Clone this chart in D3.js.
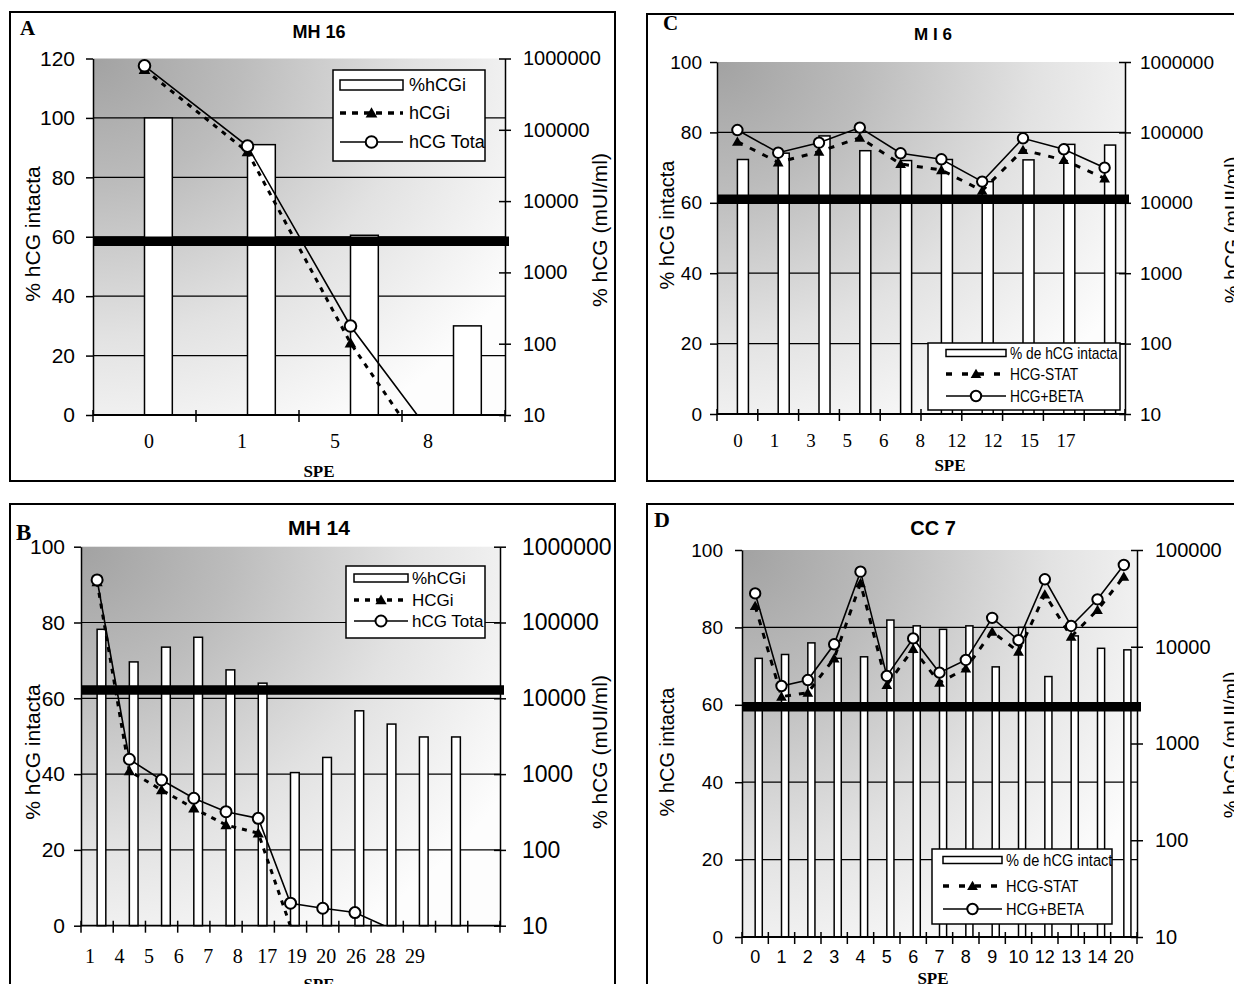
<!DOCTYPE html>
<html lang="en">
<head>
<meta charset="UTF-8">
<title>hCG intacta / hCG total</title>
<script src="https://cdnjs.cloudflare.com/ajax/libs/d3/7.8.5/d3.min.js"></script>
<style>
  body { margin: 0; background: #fff; }
  text { fill: #000; }
</style>
</head>
<body>
<svg id="chart" width="1234" height="984"></svg>
<script>
// Panel A - MH 16
const ticksA = ["0", "1", "5", "8"];
const barsA = [100, 91, 60.5, 30];
const statA = [700000, 49000, 102, 0.8];
const betaA = [790000, 59000, 177, 2.1];
const cutA = 58.5;
const legendA = ["%hCGi", "hCGi", "hCG Tota"];

// Panel B - MH 14 (13 slots, last one empty)
const ticksB = ["1", "4", "5", "6", "7", "8", "17", "19", "20", "26", "28", "29"];
const barsB = [78.2, 69.6, 73.5, 76.1, 67.5, 64.0, 40.4, 44.4, 56.7, 53.2, 49.8, 49.8, null];
const statB = [343000, 1100, 617, 354, 213, 166, 9.8, null, null, null, null, null, null];
const betaB = [364000, 1570, 836, 480, 319, 261, 19.8, 17, 14.9, 9.6, null, null, null];
const cutB = 62.2;
const legendB = ["%hCGi", "HCGi", "hCG Tota"];

// Panel C - M I 6
const ticksC = ["0", "1", "3", "5", "6", "8", "12", "12", "15", "17"];
const barsC = [72.3, 74.1, 79.0, 74.8, 72.0, 72.3, 66.0, 72.2, 76.6, 76.4];
const statC = [73800, 37600, 53200, 84100, 35600, 29200, 14900, 56200, 40600, 22300];
const betaC = [108000, 51500, 71500, 117000, 50500, 41500, 20000, 82400, 57500, 31500];
const cutC = 61;
const legendC = ["% de hCG intacta", "HCG-STAT", "HCG+BETA"];

// Panel D - CC 7
const ticksD = ["0", "1", "2", "3", "4", "5", "6", "7", "8", "9", "10", "12", "13", "14", "20"];
const barsD = [72.0, 73.0, 76.0, 72.0, 72.4, 81.9, 80.4, 79.5, 80.4, 69.8, 80.0, 67.3, 77.8, 74.6, 74.2];
const statD = [26400, 3050, 3350, 7600, 45300, 4030, 9480, 4250, 5980, 14300, 8890, 34800, 12700, 24000, 53000];
const betaD = [35600, 3930, 4530, 10600, 59700, 4990, 12200, 5400, 7300, 19900, 11700, 49800, 16400, 30900, 70000];
const cutD = 59.5;
const legendD = ["% de hCG intacta", "HCG-STAT", "HCG+BETA"];

const SANS = "Arial, 'Liberation Sans', sans-serif";
const SERIF = "'Times New Roman', 'Liberation Serif', serif";

const svg = d3.select("#chart");
const defs = svg.append("defs");

// plot area background: dark in the top-left corner, white further away
const grad = defs.append("radialGradient").attr("id", "bg")
    .attr("cx", 0).attr("cy", 0).attr("fx", 0).attr("fy", 0).attr("r", 1.2);
grad.append("stop").attr("offset", 0).attr("stop-color", "#a2a2a2");
grad.append("stop").attr("offset", 0.3).attr("stop-color", "#bcbcbc");
grad.append("stop").attr("offset", 0.65).attr("stop-color", "#e2e2e2");
grad.append("stop").attr("offset", 1).attr("stop-color", "#fdfdfd");

const panels = [
    { id: "A", title: "MH 16", ticks: ticksA, bars: barsA, stat: statA, beta: betaA, cut: cutA, legend: legendA,
      frame: [10, 12, 605, 469], l: 93, r: 505, t: 58.5, b: 415, yMax: 120, logMax: 1e6,
      letter: [20, 35, 21], head: [319, 38, 18],
      lSize: 21, lPad: 11, rSize: 20, rPad: 12,
      yTitle: [33, 234], y2Title: [600, 230], titleSize: 21,
      labelRange: [149, 428], labelY: 448, labelSize: 20, labelFont: SERIF,
      spe: [319, 477, 17], dash: "5,6", mr: 5.8, tri: 60,
      lg: { box: [333, 70, 152, 91], rows: [85, 113, 142], sw: [340, 403], swH: 10, tx: 409, size: 18, sx: 1, dash: "6,6" } },
    { id: "B", title: "MH 14", ticks: ticksB, bars: barsB, stat: statB, beta: betaB, cut: cutB, legend: legendB,
      frame: [10, 504, 605, 500], l: 81, r: 500, t: 546.7, b: 925.7, yMax: 100, logMax: 1e6,
      letter: [16, 540, 23], head: [319, 535, 21],
      lSize: 21, lPad: 9, rSize: 23, rPad: 16,
      yTitle: [33, 752], y2Title: [600, 752], titleSize: 21,
      labelRange: [90, 415], labelY: 963, labelSize: 20, labelFont: SERIF,
      spe: [319, 990, 17], dash: "5,6", mr: 5.5, tri: 55,
      lg: { box: [346, 566, 139, 72], rows: [578, 600, 621], sw: [354, 408], swH: 8, tx: 412, size: 17, sx: 1, dash: "5,6" } },
    { id: "C", title: "M I 6", ticks: ticksC, bars: barsC, stat: statC, beta: betaC, cut: cutC, legend: legendC,
      frame: [647, 14, 600, 467], l: 717, r: 1125, t: 62, b: 414, yMax: 100, logMax: 1e6,
      letter: [663, 30, 21], head: [933, 40, 17],
      lSize: 19, lPad: 8, rSize: 19, rPad: 9,
      yTitle: [667, 225], y2Title: [1232, 230], titleSize: 20,
      labelRange: [738, 1066], labelY: 447, labelSize: 19, labelFont: SERIF,
      spe: [950, 471, 17], dash: "6,8", mr: 5.2, tri: 50,
      lg: { box: [928, 343, 192, 67], rows: [353, 374, 396], sw: [946, 1006], swH: 7, tx: 1010, size: 16, sx: 0.86, dash: "6,10" } },
    { id: "D", title: "CC 7", ticks: ticksD, bars: barsD, stat: statD, beta: betaD, cut: cutD, legend: legendD,
      frame: [647, 504, 600, 500], l: 742, r: 1137, t: 550, b: 937, yMax: 100, logMax: 1e5,
      letter: [654, 527, 22], head: [933, 535, 20],
      lSize: 19, lPad: 12, rSize: 20, rPad: 12,
      yTitle: [667, 752], y2Title: [1231, 745], titleSize: 20,
      labelRange: null, labelY: 963, labelSize: 18, labelFont: SANS,
      spe: [933, 984, 17], dash: "6,8", mr: 5.2, tri: 50,
      lg: { box: [932, 849, 180, 75], rows: [860, 886, 909], sw: [943, 1002], swH: 7, tx: 1006, size: 17, sx: 0.86, dash: "6,10" } }
];

panels.forEach(drawPanel);

function drawPanel(p) {
    const g = svg.append("g").attr("font-family", SANS);

    const x = d3.scaleBand().domain(d3.range(p.bars.length)).range([p.l, p.r]);
    const y = d3.scaleLinear().domain([0, p.yMax]).range([p.b, p.t]);
    const yl = d3.scaleLog().domain([10, p.logMax]).range([p.b, p.t]);
    const bw = x.bandwidth();
    const cx = i => x(i) + bw / 2;

    // frame and headings
    g.append("rect").attr("x", p.frame[0]).attr("y", p.frame[1])
        .attr("width", p.frame[2]).attr("height", p.frame[3])
        .attr("fill", "none").attr("stroke", "#000").attr("stroke-width", 2);
    g.append("text").attr("x", p.letter[0]).attr("y", p.letter[1])
        .attr("font-family", SERIF).attr("font-weight", "bold").attr("font-size", p.letter[2]).text(p.id);
    g.append("text").attr("x", p.head[0]).attr("y", p.head[1]).attr("text-anchor", "middle")
        .attr("font-weight", "bold").attr("font-size", p.head[2]).text(p.title);

    // plot background and grid
    g.append("rect").attr("x", p.l).attr("y", p.t).attr("width", p.r - p.l).attr("height", p.b - p.t)
        .attr("fill", "url(#bg)");
    const yTicks = d3.range(0, p.yMax + 1, 20);
    g.append("g").selectAll("line").data(yTicks.filter(v => v > 0 && v < p.yMax)).join("line")
        .attr("x1", p.l).attr("x2", p.r).attr("y1", d => y(d)).attr("y2", d => y(d))
        .attr("stroke", "#000").attr("stroke-width", 1.2);

    // bars (second slot of each cluster)
    g.append("g").selectAll("rect").data(p.bars.map((v, i) => ({ v, i })).filter(d => d.v != null)).join("rect")
        .attr("x", d => cx(d.i)).attr("width", bw * 0.27)
        .attr("y", d => y(d.v)).attr("height", d => p.b - y(d.v))
        .attr("fill", "#fff").attr("stroke", "#000").attr("stroke-width", 1.5);

    // lines, clipped to the plot area
    const clipId = "clip" + p.id;
    defs.append("clipPath").attr("id", clipId).append("rect")
        .attr("x", p.l).attr("y", p.t - 8).attr("width", p.r - p.l).attr("height", p.b - p.t + 8);
    const line = d3.line().defined(d => d != null).x((d, i) => cx(i)).y(d => yl(d));
    const inside = arr => arr.map((v, i) => ({ v, i })).filter(d => d.v != null && d.v >= 10);

    g.append("path").attr("d", line(p.stat)).attr("clip-path", `url(#${clipId})`)
        .attr("fill", "none").attr("stroke", "#000").attr("stroke-width", 3).attr("stroke-dasharray", p.dash);
    g.append("g").selectAll("path").data(inside(p.stat)).join("path")
        .attr("transform", d => `translate(${cx(d.i)},${yl(d.v) + 1})`)
        .attr("d", d3.symbol(d3.symbolTriangle, p.tri)).attr("fill", "#000");

    g.append("path").attr("d", line(p.beta)).attr("clip-path", `url(#${clipId})`)
        .attr("fill", "none").attr("stroke", "#000").attr("stroke-width", 1.6);
    g.append("g").selectAll("circle").data(inside(p.beta)).join("circle")
        .attr("cx", d => cx(d.i)).attr("cy", d => yl(d.v)).attr("r", p.mr)
        .attr("fill", "#fff").attr("stroke", "#000").attr("stroke-width", 2);

    // thick cut-off line
    g.append("line").attr("x1", p.l).attr("x2", p.r + 4).attr("y1", y(p.cut)).attr("y2", y(p.cut))
        .attr("stroke", "#000").attr("stroke-width", 9.5);

    // left axis
    const ax = g.append("g").attr("transform", `translate(${p.l},0)`)
        .call(d3.axisLeft(y).tickValues(yTicks).tickSize(7).tickSizeOuter(0).tickPadding(p.lPad));
    ax.attr("font-family", SANS).attr("font-size", p.lSize);
    ax.selectAll("line, path").attr("stroke", "#000").attr("stroke-width", 1.5);

    // right (log) axis
    const decades = d3.range(1, Math.log10(p.logMax) + 1).map(e => Math.pow(10, e));
    const ax2 = g.append("g").attr("transform", `translate(${p.r},0)`)
        .call(d3.axisRight(yl).tickValues(decades).tickFormat(d3.format("d")).tickSize(6).tickSizeOuter(0).tickPadding(p.rPad));
    ax2.attr("font-family", SANS).attr("font-size", p.rSize);
    ax2.selectAll("line").attr("x1", -6);
    ax2.selectAll("line, path").attr("stroke", "#000").attr("stroke-width", 1.5);

    // category axis
    g.append("line").attr("x1", p.l).attr("x2", p.r).attr("y1", p.b).attr("y2", p.b)
        .attr("stroke", "#000").attr("stroke-width", 1.8);
    g.append("g").selectAll("line").data(x.domain().map(i => x(i)).concat([p.r])).join("line")
        .attr("x1", d => d).attr("x2", d => d).attr("y1", p.b - 5).attr("y2", p.b + 7)
        .attr("stroke", "#000").attr("stroke-width", 1.5);
    const lx = p.labelRange
        ? d3.scalePoint().domain(d3.range(p.ticks.length)).range(p.labelRange)
        : cx;
    g.append("g").selectAll("text").data(p.ticks).join("text")
        .attr("x", (d, i) => lx(i)).attr("y", p.labelY).attr("text-anchor", "middle")
        .attr("font-family", p.labelFont).attr("font-size", p.labelSize).text(d => d);
    g.append("text").attr("x", p.spe[0]).attr("y", p.spe[1]).attr("text-anchor", "middle")
        .attr("font-family", SERIF).attr("font-weight", "bold").attr("font-size", p.spe[2]).text("SPE");

    // axis titles
    g.append("text").attr("transform", `translate(${p.yTitle[0]},${p.yTitle[1]}) rotate(-90)`)
        .attr("text-anchor", "middle").attr("dy", "0.35em").attr("font-size", p.titleSize).text("% hCG intacta");
    g.append("text").attr("transform", `translate(${p.y2Title[0]},${p.y2Title[1]}) rotate(-90)`)
        .attr("text-anchor", "middle").attr("dy", "0.35em").attr("font-size", p.titleSize).text("% hCG (mUI/ml)");

    // legend
    const lg = p.lg;
    const lgClip = "lg" + p.id;
    defs.append("clipPath").attr("id", lgClip).append("rect")
        .attr("x", lg.box[0]).attr("y", lg.box[1]).attr("width", lg.box[2]).attr("height", lg.box[3]);
    const L = g.append("g");
    L.append("rect").attr("x", lg.box[0]).attr("y", lg.box[1]).attr("width", lg.box[2]).attr("height", lg.box[3])
        .attr("fill", "#fff").attr("stroke", "#000").attr("stroke-width", 1.5);
    const mid = (lg.sw[0] + lg.sw[1]) / 2;
    L.append("rect").attr("x", lg.sw[0]).attr("y", lg.rows[0] - lg.swH / 2)
        .attr("width", lg.sw[1] - lg.sw[0]).attr("height", lg.swH)
        .attr("fill", "#fff").attr("stroke", "#000").attr("stroke-width", 1.5);
    L.append("line").attr("x1", lg.sw[0]).attr("x2", lg.sw[1]).attr("y1", lg.rows[1]).attr("y2", lg.rows[1])
        .attr("stroke", "#000").attr("stroke-width", 3.5).attr("stroke-dasharray", lg.dash);
    L.append("path").attr("transform", `translate(${mid},${lg.rows[1] + 1})`)
        .attr("d", d3.symbol(d3.symbolTriangle, p.tri)).attr("fill", "#000");
    L.append("line").attr("x1", lg.sw[0]).attr("x2", lg.sw[1]).attr("y1", lg.rows[2]).attr("y2", lg.rows[2])
        .attr("stroke", "#000").attr("stroke-width", 1.6);
    L.append("circle").attr("cx", mid).attr("cy", lg.rows[2]).attr("r", p.mr)
        .attr("fill", "#fff").attr("stroke", "#000").attr("stroke-width", 2);
    L.append("g").attr("clip-path", `url(#${lgClip})`).selectAll("text").data(p.legend).join("text")
        .attr("transform", (d, i) => `translate(${lg.tx},${lg.rows[i]}) scale(${lg.sx},1)`)
        .attr("dy", "0.35em").attr("font-size", lg.size).text(d => d);
}
</script>
</body>
</html>
